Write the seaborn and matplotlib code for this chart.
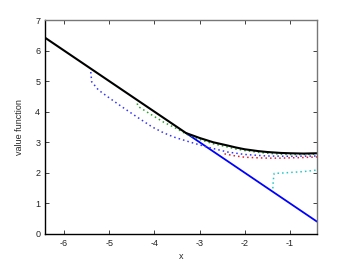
import numpy as np
import pandas as pd
import matplotlib
matplotlib.use("Agg")
import matplotlib.pyplot as plt
import seaborn as sns

# black: linear part then smooth curve
black_x = [-6.42, -5.5, -4.5, -3.6, -3.3, -3.0, -2.7, -2.4, -2.2, -2.0, -1.7, -1.5, -1.2, -1.0, -0.7, -0.4]
black_y = [6.42, 5.5, 4.5, 3.6, 3.3, 3.14, 3.0, 2.9, 2.83, 2.77, 2.71, 2.68, 2.65, 2.64, 2.63, 2.64]

# blue solid: continuation of the line
line_x = [-3.3, -0.4]
line_y = [3.3, 0.4]

blue_x = [-5.41, -5.39, -5.24, -4.98, -4.72, -4.42, -4.05, -3.8, -3.57, -3.2, -2.8, -2.38, -2.0, -1.5, -1.0, -0.4]
blue_y = [5.3, 4.98, 4.71, 4.43, 4.16, 3.86, 3.5, 3.31, 3.17, 3.0, 2.83, 2.68, 2.6, 2.55, 2.54, 2.55]

green_x = [-4.38, -4.37, -4.1, -3.8, -3.5, -3.3, -3.0, -2.7, -2.4, -2.2, -2.0, -1.7, -1.5, -1.2, -1.0, -0.7, -0.4]
green_y = [4.27, 4.18, 3.93, 3.66, 3.44, 3.27, 3.09, 2.95, 2.85, 2.78, 2.73, 2.67, 2.64, 2.61, 2.6, 2.6, 2.61]

red_x = [-2.45, -2.2, -2.0, -1.7, -1.5, -1.2, -1.0, -0.7, -0.4]
red_y = [2.62, 2.55, 2.51, 2.49, 2.48, 2.48, 2.49, 2.5, 2.52]

cyan_x = [-1.38, -1.37, -1.35, -1.2, -1.0, -0.7, -0.4]
cyan_y = [1.49, 1.75, 1.98, 1.99, 2.01, 2.04, 2.09]

sns.set_style("ticks")
plt.rcParams["font.family"] = ["Liberation Sans", "DejaVu Sans"]
plt.rcParams["axes.unicode_minus"] = False

fig = plt.figure(figsize=(3.5, 2.64), dpi=100)
ax = fig.add_axes([0.129, 0.114, 0.777, 0.81])

sns.lineplot(x=line_x, y=line_y, color="#0000ff", lw=1.3, ax=ax)
sns.lineplot(x=blue_x, y=blue_y, color="#3333ff", lw=1.1, ls=(0, (1, 2)), ax=ax)
sns.lineplot(x=red_x, y=red_y, color="#dd1f2f", lw=1.1, ls=(0, (1, 2)), ax=ax)
sns.lineplot(x=cyan_x, y=cyan_y, color="#22c8c8", lw=1.1, ls=(0, (1, 2)), ax=ax)
sns.lineplot(x=green_x, y=green_y, color="#2aa02a", lw=1.1, ls=(0, (1, 2)), ax=ax)
sns.lineplot(x=black_x, y=black_y, color="black", lw=1.5, ax=ax)

ax.set_xlim(-6.42, -0.4)
ax.set_ylim(0, 7)
ax.set_xticks([-6, -5, -4, -3, -2, -1])
ax.set_yticks(range(0, 8))
ax.tick_params(direction="in", length=3, width=0.6, labelsize=6.5, colors="#222222",
               top=True, right=True)
for side in ["left", "bottom"]:
    ax.spines[side].set_color("black")
    ax.spines[side].set_linewidth(1.0)
for side in ["top", "right"]:
    ax.spines[side].set_visible(True)
    ax.spines[side].set_color("#777777")
    ax.spines[side].set_linewidth(1.0)

ax.set_xlabel("x", fontsize=6.5, labelpad=3)
ax.set_ylabel("value function", fontsize=6.5, labelpad=8)

fig.savefig("out.png", dpi=100)
